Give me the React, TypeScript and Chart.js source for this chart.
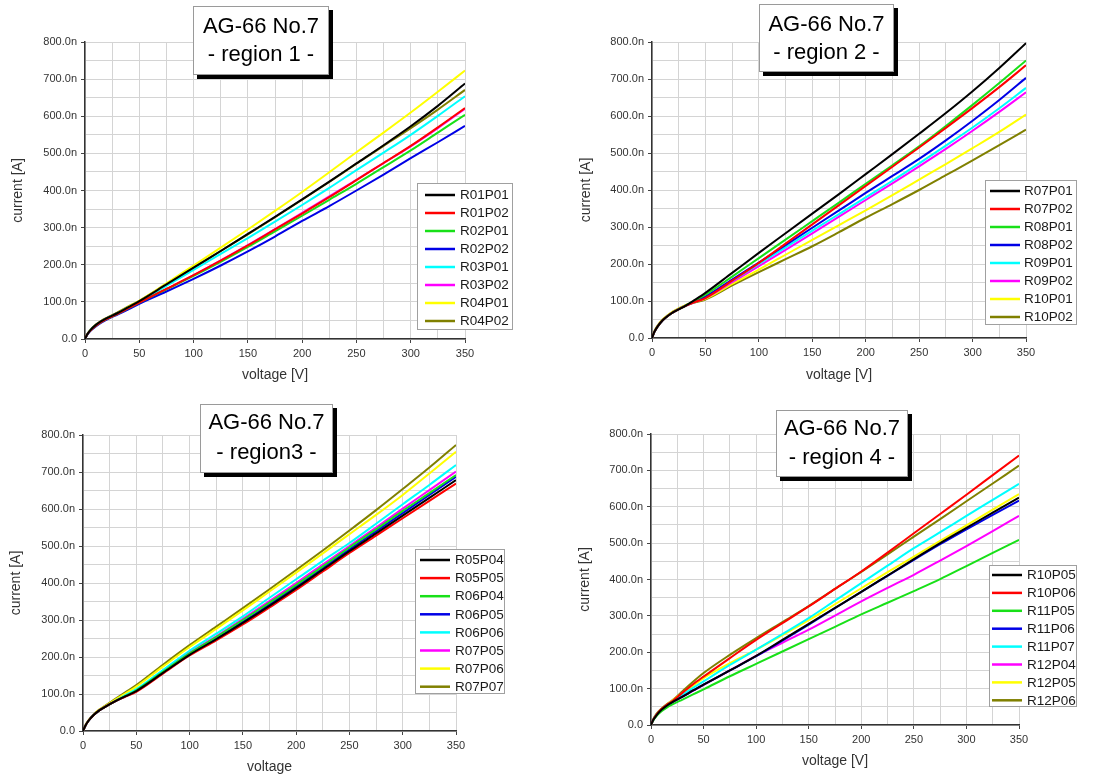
import React, { useEffect, useRef } from 'react';
import { Chart, registerables } from 'chart.js';

Chart.register(...registerables);
Chart.defaults.font.family = '"Liberation Sans", Arial, sans-serif';

// ---------- data ----------
const voltage = [0, 2, 5, 10, 15, 20, 30, 40, 50, 75, 100, 125, 150, 175, 200, 225, 250, 275, 300, 325, 350];
const xTickLabels = ['0', '50', '100', '150', '200', '250', '300', '350'];
const yTickLabels = ['0.0', '100.0n', '200.0n', '300.0n', '400.0n', '500.0n', '600.0n', '700.0n', '800.0n'];
const seriesColors = ['#000000', '#ff0000', '#18e018', '#0000e6', '#00ffff', '#ff00ff', '#ffff00', '#808000'];

// region 1 (nA)
const r1Labels = ['R01P01', 'R01P02', 'R02P01', 'R02P02', 'R03P01', 'R03P02', 'R04P01', 'R04P02'];
const r1_R01P01 = [0, 12, 24, 38, 48, 56, 70, 86, 102, 147, 192, 237, 283, 329, 376, 424, 473, 522, 573, 628, 688];
const r1_R01P02 = [0, 12, 23, 36, 46, 54, 68, 83, 98, 135, 172, 211, 252, 295, 338, 382, 428, 474, 520, 570, 622];
const r1_R02P01 = [0, 12, 23, 36, 46, 54, 68, 83, 98, 134, 170, 208, 248, 290, 332, 375, 418, 463, 508, 556, 604];
const r1_R02P02 = [0, 11, 22, 34, 44, 52, 66, 80, 95, 128, 162, 198, 236, 276, 318, 358, 400, 443, 487, 530, 574];
const r1_R03P01 = [0, 12, 24, 37, 47, 55, 69, 85, 100, 143, 186, 229, 272, 316, 361, 407, 455, 502, 550, 601, 654];
const r1_R03P02 = [0, 12, 23, 36, 46, 54, 68, 82, 97, 134, 172, 212, 253, 296, 340, 384, 429, 474, 519, 568, 620];
const r1_R04P01 = [0, 12, 24, 37, 47, 55, 70, 87, 103, 150, 198, 246, 295, 345, 396, 449, 503, 556, 610, 666, 723];
const r1_R04P02 = [0, 13, 25, 39, 49, 57, 72, 88, 103, 148, 192, 237, 282, 328, 375, 423, 472, 520, 568, 618, 671];

// region 2
const r2Labels = ['R07P01', 'R07P02', 'R08P01', 'R08P02', 'R09P01', 'R09P02', 'R10P01', 'R10P02'];
const r2_R07P01 = [0, 15, 30, 48, 60, 70, 85, 103, 122, 176, 230, 283, 336, 389, 443, 497, 552, 608, 667, 730, 797];
const r2_R07P02 = [0, 15, 30, 48, 60, 70, 85, 97, 108, 155, 203, 255, 307, 359, 411, 463, 515, 568, 622, 678, 737];
const r2_R08P01 = [0, 15, 30, 48, 60, 70, 85, 101, 117, 166, 216, 266, 316, 366, 417, 467, 518, 573, 630, 689, 750];
const r2_R08P02 = [0, 15, 30, 48, 60, 70, 85, 99, 112, 158, 204, 251, 298, 345, 392, 438, 484, 534, 587, 643, 703];
const r2_R09P01 = [0, 15, 30, 48, 60, 70, 85, 98, 110, 155, 200, 245, 290, 335, 380, 425, 472, 520, 569, 621, 676];
const r2_R09P02 = [0, 15, 30, 48, 60, 70, 85, 97, 108, 151, 194, 238, 283, 328, 373, 418, 464, 511, 560, 611, 664];
const r2_R10P01 = [0, 16, 32, 50, 62, 72, 87, 98, 106, 146, 185, 225, 265, 305, 345, 386, 428, 470, 513, 557, 604];
const r2_R10P02 = [0, 16, 32, 50, 62, 72, 87, 96, 104, 142, 178, 213, 248, 286, 325, 362, 400, 440, 480, 521, 563];

// region 3
const r3Labels = ['R05P04', 'R05P05', 'R06P04', 'R06P05', 'R06P06', 'R07P05', 'R07P06', 'R07P07'];
const r3_R05P04 = [0, 13, 27, 43, 55, 64, 80, 94, 108, 157, 206, 248, 292, 338, 386, 436, 486, 534, 582, 630, 678];
const r3_R05P05 = [0, 13, 27, 43, 55, 64, 80, 93, 106, 155, 204, 245, 288, 334, 381, 431, 481, 528, 575, 622, 669];
const r3_R06P04 = [0, 13, 27, 43, 55, 64, 80, 95, 110, 160, 210, 254, 300, 347, 395, 445, 496, 545, 595, 643, 692];
const r3_R06P05 = [0, 13, 27, 43, 55, 64, 80, 94, 108, 157, 207, 250, 295, 342, 390, 440, 491, 540, 589, 638, 687];
const r3_R06P06 = [0, 13, 27, 43, 55, 64, 81, 97, 113, 165, 217, 263, 310, 360, 410, 460, 508, 560, 613, 665, 719];
const r3_R07P05 = [0, 13, 27, 43, 55, 64, 80, 95, 110, 161, 212, 256, 303, 351, 400, 450, 500, 550, 601, 651, 701];
const r3_R07P06 = [0, 14, 28, 45, 57, 66, 84, 102, 120, 174, 227, 276, 326, 377, 428, 480, 532, 584, 638, 696, 755];
const r3_R07P07 = [0, 14, 28, 45, 57, 67, 86, 105, 124, 179, 232, 282, 332, 383, 435, 488, 542, 597, 654, 712, 773];

// region 4
const r4Labels = ['R10P05', 'R10P06', 'R11P05', 'R11P06', 'R11P07', 'R12P04', 'R12P05', 'R12P06'];
const r4_R10P05 = [0, 13, 26, 42, 53, 62, 78, 95, 111, 150, 190, 234, 278, 322, 366, 411, 456, 500, 542, 584, 625];
const r4_R10P06 = [0, 14, 28, 45, 56, 65, 89, 112, 133, 184, 234, 280, 326, 374, 422, 474, 527, 580, 633, 687, 741];
const r4_R11P05 = [0, 12, 24, 38, 48, 56, 70, 84, 98, 134, 168, 202, 236, 270, 304, 336, 368, 401, 437, 473, 509];
const r4_R11P06 = [0, 13, 26, 42, 53, 62, 78, 95, 111, 150, 189, 232, 276, 321, 366, 410, 454, 497, 538, 578, 617];
const r4_R11P07 = [0, 14, 28, 44, 56, 65, 84, 102, 120, 165, 207, 250, 294, 342, 390, 438, 486, 530, 575, 619, 663];
const r4_R12P04 = [0, 13, 26, 42, 53, 62, 78, 94, 110, 150, 190, 226, 262, 301, 340, 377, 413, 452, 492, 533, 575];
const r4_R12P05 = [0, 14, 28, 45, 57, 67, 88, 108, 129, 170, 207, 247, 288, 332, 376, 420, 463, 506, 549, 592, 635];
const r4_R12P06 = [0, 15, 30, 45, 57, 67, 93, 119, 143, 193, 239, 283, 327, 374, 421, 469, 518, 566, 615, 664, 713];

// ---------- layout ----------
type Panel = {
  left: number; top: number; w: number; h: number;
  area: { l: number; t: number; r: number; b: number };
  yTitlePad: number; xTitlePad: number; xTitle: string;
  titleLines: string[]; box: { x: number; y: number; w: number; h: number }; lineY: number[];
  legend: { x: number; y: number; w: number; h: number; first: number; step: number; l1: number; l2: number; tx: number };
  labels: string[]; series: number[][];
};

const panels: Panel[] = [
  {
    left: 0, top: 0, w: 555, h: 390, area: { l: 85, t: 42, r: 465, b: 339 },
    yTitlePad: 10, xTitlePad: 6, xTitle: 'voltage [V]',
    titleLines: ['AG-66 No.7', '- region 1 -'], box: { x: 193, y: 6, w: 136, h: 69 }, lineY: [27, 55],
    legend: { x: 417, y: 183, w: 96, h: 147, first: 195, step: 18, l1: 425, l2: 455, tx: 460 },
    labels: r1Labels, series: [r1_R01P01, r1_R01P02, r1_R02P01, r1_R02P02, r1_R03P01, r1_R03P02, r1_R04P01, r1_R04P02],
  },
  {
    left: 555, top: 0, w: 556, h: 390, area: { l: 97, t: 42, r: 471, b: 338 },
    yTitlePad: 23, xTitlePad: 6, xTitle: 'voltage [V]',
    titleLines: ['AG-66 No.7', '- region 2 -'], box: { x: 204, y: 4, w: 135, h: 68 }, lineY: [25, 53],
    legend: { x: 430, y: 180, w: 92, h: 145, first: 191, step: 18, l1: 435, l2: 465, tx: 469 },
    labels: r2Labels, series: [r2_R07P01, r2_R07P02, r2_R08P01, r2_R08P02, r2_R09P01, r2_R09P02, r2_R10P01, r2_R10P02],
  },
  {
    left: 0, top: 390, w: 555, h: 390, area: { l: 83, t: 45, r: 456, b: 341 },
    yTitlePad: 8, xTitlePad: 4, xTitle: 'voltage',
    titleLines: ['AG-66 No.7', '- region3 -'], box: { x: 200, y: 14, w: 133, h: 69 }, lineY: [33, 63],
    legend: { x: 415, y: 159, w: 90, h: 145, first: 170, step: 18.1, l1: 420, l2: 450, tx: 455 },
    labels: r3Labels, series: [r3_R05P04, r3_R05P05, r3_R06P04, r3_R06P05, r3_R06P06, r3_R07P05, r3_R07P06, r3_R07P07],
  },
  {
    left: 555, top: 390, w: 556, h: 390, area: { l: 96, t: 44, r: 464, b: 335 },
    yTitlePad: 22, xTitlePad: 10, xTitle: 'voltage [V]',
    titleLines: ['AG-66 No.7', '- region 4 -'], box: { x: 221, y: 20, w: 132, h: 67 }, lineY: [39, 68],
    legend: { x: 434, y: 175, w: 88, h: 142, first: 185, step: 17.9, l1: 437, l2: 467, tx: 472 },
    labels: r4Labels, series: [r4_R10P05, r4_R10P06, r4_R11P05, r4_R11P06, r4_R11P07, r4_R12P04, r4_R12P05, r4_R12P06],
  },
];

const FONT = '"Liberation Sans", Arial, sans-serif';

function makeOverlay(p: Panel) {
  return {
    id: 'overlay',
    afterDraw(chart: any) {
      const ctx = chart.ctx as CanvasRenderingContext2D;
      ctx.save();
      // title box with shadow
      const b = p.box;
      ctx.fillStyle = '#000';
      ctx.fillRect(b.x + 4, b.y + 4, b.w, b.h);
      ctx.fillStyle = '#fff';
      ctx.fillRect(b.x, b.y, b.w, b.h);
      ctx.strokeStyle = '#9a9a9a';
      ctx.lineWidth = 1;
      ctx.strokeRect(b.x + 0.5, b.y + 0.5, b.w - 1, b.h - 1);
      ctx.fillStyle = '#000';
      ctx.font = `22px ${FONT}`;
      ctx.textAlign = 'center';
      ctx.textBaseline = 'middle';
      p.titleLines.forEach((t, i) => ctx.fillText(t, b.x + b.w / 2, p.lineY[i]));
      // legend
      const L = p.legend;
      ctx.fillStyle = '#fff';
      ctx.fillRect(L.x, L.y, L.w, L.h);
      ctx.strokeStyle = '#a0a0a0';
      ctx.strokeRect(L.x + 0.5, L.y + 0.5, L.w - 1, L.h - 1);
      ctx.font = `13.5px ${FONT}`;
      ctx.textAlign = 'left';
      chart.data.datasets.forEach((ds: any, i: number) => {
        const y = L.first + i * L.step;
        ctx.strokeStyle = ds.borderColor;
        ctx.lineWidth = 2.5;
        ctx.beginPath();
        ctx.moveTo(L.l1, y);
        ctx.lineTo(L.l2, y);
        ctx.stroke();
        ctx.fillStyle = '#1a1a1a';
        ctx.fillText(ds.label, L.tx, y + 0.5);
      });
      ctx.restore();
    },
  };
}

function PanelChart({ p }: { p: Panel }) {
  const ref = useRef<HTMLCanvasElement | null>(null);
  useEffect(() => {
    if (!ref.current) return;
    const datasets = p.series.map((vals, i) => ({
      label: p.labels[i],
      data: voltage.map((v, k) => ({ x: v, y: vals[k] })),
      borderColor: seriesColors[i],
      backgroundColor: seriesColors[i],
      borderWidth: 2,
      pointRadius: 0,
      cubicInterpolationMode: 'monotone' as const,
      fill: false,
    }));
    const chart = new Chart(ref.current, {
      type: 'line',
      data: { datasets },
      plugins: [makeOverlay(p)],
      options: {
        responsive: false,
        animation: false,
        devicePixelRatio: 1,
        layout: { padding: { left: 0, top: p.area.t, right: p.w - p.area.r, bottom: 0 } },
        plugins: { legend: { display: false }, tooltip: { enabled: false }, title: { display: false } },
        scales: {
          x: {
            type: 'linear', min: 0, max: 350,
            afterFit: (s: any) => { s.height = p.h - p.area.b; },
            ticks: {
              stepSize: 25, autoSkip: false, maxRotation: 0, color: '#333', font: { size: 11 }, padding: 4,
              callback: (v: any) => (Number(v) % 50 === 0 ? xTickLabels[Number(v) / 50] : ''),
            },
            grid: {
              color: '#d4d4d4', lineWidth: 1, tickLength: 4,
              tickColor: (c: any) => (c.tick && c.tick.value % 50 === 0 ? '#444' : 'rgba(0,0,0,0)'),
            },
            border: { display: true, color: '#333', width: 1.5 },
            title: { display: true, text: p.xTitle, color: '#333', font: { size: 14 }, padding: { top: 0, bottom: p.xTitlePad } },
          },
          y: {
            type: 'linear', min: 0, max: 800,
            afterFit: (s: any) => { s.width = p.area.l; },
            ticks: {
              stepSize: 50, autoSkip: false, color: '#333', font: { size: 11 }, padding: 4,
              callback: (v: any) => (Number(v) % 100 === 0 ? yTickLabels[Number(v) / 100] : ''),
            },
            grid: {
              color: '#d4d4d4', lineWidth: 1, tickLength: 4,
              tickColor: (c: any) => (c.tick && c.tick.value % 100 === 0 ? '#444' : 'rgba(0,0,0,0)'),
            },
            border: { display: true, color: '#333', width: 1.5 },
            title: { display: true, text: 'current [A]', color: '#333', font: { size: 14 }, padding: { top: p.yTitlePad, bottom: 0 } },
          },
        },
      } as any,
    });
    return () => chart.destroy();
  }, [p]);
  return (
    <canvas
      ref={ref}
      width={p.w}
      height={p.h}
      style={{ position: 'absolute', left: p.left, top: p.top, width: p.w, height: p.h }}
    />
  );
}

export default function App() {
  return (
    <div style={{ position: 'absolute', left: 0, top: 0, width: 1111, height: 780, background: '#fff', overflow: 'hidden' }}>
      {panels.map((p, i) => (
        <PanelChart key={i} p={p} />
      ))}
    </div>
  );
}
